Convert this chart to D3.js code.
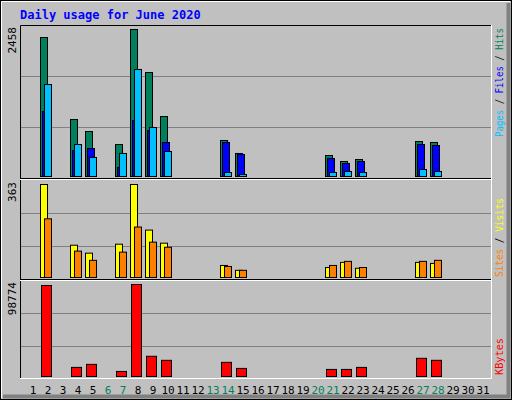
<!DOCTYPE html>
<html><head><meta charset="utf-8">
<script src="https://cdn.jsdelivr.net/npm/d3@7"></script>
<style>body{margin:0;background:#fff}</style></head>
<body><svg id="c" width="512" height="400"></svg>
<script>
const days = d3.range(1,32);
const weekends = [6,7,13,14,20,21,27,28];
const hitsDays  = [2,4,5,7,8,9,10,14,15,21,22,23,27,28];
const hits   = [2324,953,752,535,2458,1739,1003,602,385,351,251,284,585,569];
const files  = [1087,435,468,150,936,769,569,569,368,301,217,251,535,518];
const pages  = [1538,535,318,385,1789,819,418,67,33,67,84,67,117,84];
const visits = [363,126,95,130,363,185,134,47,28,39,59,36,59,55];
const sites  = [229,103,67,99,197,138,118,43,28,47,63,39,63,67];
const kbytes = [97689,9769,13025,5427,98774,21708,17367,15196,8683,7598,7598,9769,19537,17367];
const maxHits = 2458, maxVisits = 363, maxKB = 98774;

const svg = d3.select('#c');
const F = 'DejaVu Sans Mono, monospace';
svg.append('rect').attr('x',0).attr('y',0).attr('width',512).attr('height',400).attr('fill','#c0c0c0');
svg.append('rect').attr('x',0.5).attr('y',0.5).attr('width',511).attr('height',399).attr('fill','none').attr('stroke','#000');
svg.append('path').attr('d','M1.5,398V1.5H510').attr('stroke','#fff').attr('fill','none');
svg.append('path').attr('d','M508.5,3V396.5H3').attr('stroke','#808080').attr('stroke-width',4).attr('fill','none');

const x = d3.scaleLinear().domain([1,31]).range([33,483]);
const L=20, R=491;
const panels = [
  {top:25, y:d3.scaleLinear([0,maxHits],[176,29]), grid:[127,76]},
  {top:180, y:d3.scaleLinear([0,maxVisits],[277,184]), grid:[246,213]},
  {top:280, y:d3.scaleLinear([0,maxKB],[376,284]), grid:[346,313]}
];
panels.forEach(p=>{
  p.grid.forEach(g=>svg.append('line').attr('x1',L).attr('x2',R).attr('y1',g+.5).attr('y2',g+.5).attr('stroke','#808080'));
});
svg.append('path').attr('d',`M${L+.5},378V${25.5}H${R}`).attr('stroke','#000').attr('fill','none');
svg.append('path').attr('d',`M${L},378.5H${R+.5}V25`).attr('stroke','#fff').attr('fill','none');
[178,279].forEach(s=>{
  svg.append('line').attr('x1',L).attr('x2',R).attr('y1',s+.5).attr('y2',s+.5).attr('stroke','#000');
  svg.append('line').attr('x1',L).attr('x2',R).attr('y1',s+1.5).attr('y2',s+1.5).attr('stroke','#fff');
});

function bars(vals, p, off, w, color){
  svg.append('g').selectAll('rect').data(vals).join('rect')
    .attr('x',(d,i)=>x(hitsDays[i])+off+.5)
    .attr('y',d=>p.y(d)+.5)
    .attr('width',w)
    .attr('height',d=>p.y(0)-p.y(d))
    .attr('fill',color).attr('stroke','#000');
}
bars(hits,panels[0],-8,7,'#00805c');
bars(files,panels[0],-6,7,'#0000ff');
bars(pages,panels[0],-4,7,'#00c0ff');
bars(visits,panels[1],-8,7,'#ffff00');
bars(sites,panels[1],-4,7,'#ff8000');
bars(kbytes,panels[2],-7,10,'#ff0000');

svg.append('g').selectAll('text').data(days).join('text')
  .attr('x',d=>x(d)).attr('y',394).attr('text-anchor','middle')
  .attr('font-family',F).attr('font-size',11)
  .attr('fill',d=>weekends.includes(d)?'#00805c':'#000').text(d=>d);

svg.append('text').attr('x',20).attr('y',19).attr('font-family',F).attr('font-weight','bold')
  .attr('font-size',12).attr('fill','#0000ff').text('Daily usage for June 2020');

[[maxHits,panels[0]],[maxVisits,panels[1]],[maxKB,panels[2]]].forEach(([v,p])=>{
  svg.append('text').attr('transform',`translate(16,${p.top+2}) rotate(-90)`).attr('text-anchor','end')
    .attr('font-family',F).attr('font-size',11).attr('fill','#000').text(v);
});
function legend(parts, yTop, len){
  const t = svg.append('text').attr('transform',`translate(503,${yTop}) rotate(-90)`).attr('text-anchor','end')
    .attr('font-family',F).attr('font-size',10)
    .attr('textLength',len).attr('lengthAdjust','spacingAndGlyphs');
  parts.forEach(([s,c])=>t.append('tspan').attr('fill',c).text(s));
}
legend([['Pages','#00c0ff'],[' / ','#000'],['Files','#0000ff'],[' / ','#000'],['Hits','#00805c']],28,109);
legend([['Sites','#ff8000'],[' / ','#000'],['Visits','#ffff00']],198,79);
legend([['KBytes','#ff0000']],338,37);
</script></body></html>
